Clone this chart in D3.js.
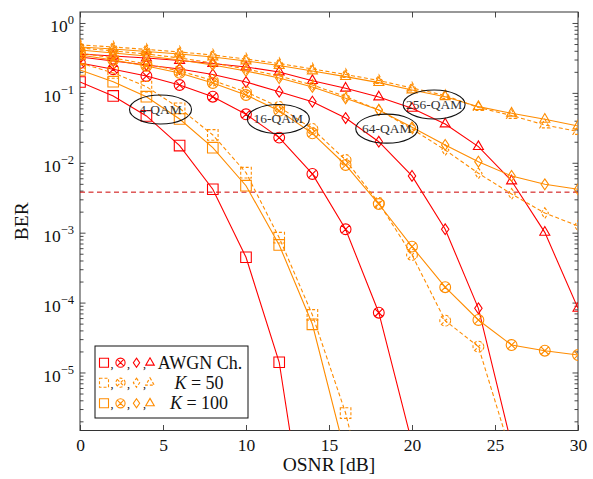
<!DOCTYPE html>
<html>
<head>
<meta charset="utf-8">
<script src="https://cdn.jsdelivr.net/npm/d3@7/dist/d3.min.js"></script>
<style>
html,body{margin:0;padding:0;background:#fff;}
svg{display:block;}
text{font-family:"Liberation Serif","Times New Roman",serif;}
</style>
</head>
<body>
<svg id="chart" width="593" height="479"></svg>
<script>
// ---------------- data ----------------
const osnr = [0,2,4,6,8,10,12,14,16,18,20,22,24,26,28,30];
const xTicks = [0,5,10,15,20,25,30];
const yTickExps = [0,-1,-2,-3,-4,-5];
const fecLimit = 3.8e-3;

// AWGN channel (red, solid)
const awgn4   = [0.143,0.0903,0.0468,0.0176,4.18e-3,4.45e-4,1.40e-5,1.2e-8];
const awgn16  = [0.268,0.218,0.1745,0.1297,0.0882,0.0494,0.0229,6.92e-3,1.12e-3,7.17e-5,9.8e-7];
const awgn64  = [0.326,0.286,0.251,0.220,0.1834,0.143,0.104,0.0748,0.0437,0.0200,6.48e-3,1.12e-3,8.28e-5,9.2e-7];
const awgn256 = [0.360,0.337,0.316,0.291,0.263,0.235,0.199,0.1495,0.1164,0.0874,0.0602,0.0359,0.0170,5.49e-3,1.01e-3,8.28e-5];

// K = 50 (orange, dashed)
const k50_4   = [0.268,0.193,0.1227,0.0602,0.0250,7.22e-3,8.48e-4,6.65e-5,2.63e-6,3e-8];
const k50_16  = [0.372,0.316,0.259,0.206,0.1504,0.103,0.0629,0.0305,0.01096,2.66e-3,4.80e-4,5.51e-5,2.34e-5,6.6e-7];
const k50_64  = [0.439,0.398,0.360,0.316,0.268,0.220,0.1745,0.1297,0.0888,0.0569,0.0305,0.0152,7.08e-3,3.58e-3,1.91e-3,1.25e-3];
const k50_256 = [0.485,0.454,0.418,0.385,0.348,0.305,0.263,0.220,0.1834,0.1504,0.1175,0.0918,0.0618,0.0475,0.0347,0.0280];

// K = 100 (orange, solid)
const k100_4   = [0.213,0.1446,0.0882,0.0423,0.01644,4.70e-3,6.67e-4,4.89e-5,6.6e-7];
const k100_16  = [0.348,0.296,0.243,0.193,0.1386,0.0933,0.0556,0.0264,9.30e-3,2.57e-3,6.31e-4,1.66e-4,5.64e-5,2.47e-5,2.05e-5,1.78e-5];
const k100_64  = [0.411,0.372,0.337,0.296,0.251,0.206,0.163,0.1214,0.0837,0.0569,0.0322,0.0180,0.01037,6.48e-3,4.92e-3,4.18e-3];
const k100_256 = [0.454,0.425,0.391,0.360,0.326,0.286,0.247,0.206,0.1706,0.140,0.110,0.0882,0.0635,0.0511,0.0419,0.0336];

const markers = ["square","circlex","diamond","triangle"];
const qamLabels = ["4-QAM","16-QAM","64-QAM","256-QAM"];
const labelOsnr = [4.85,11.95,18.48,21.33];
const labelBer  = [0.0579,0.0423,0.0308,0.0682];
const legendTexts = ["AWGN Ch.","K = 50","K = 100"];

// ---------------- styles ----------------
const RED = "#ff0000", ORANGE = "#ff8c00";
const groups = [
  {name:"AWGN Ch.", color:RED, dash:null, series:[awgn4,awgn16,awgn64,awgn256]},
  {name:"K50", color:ORANGE, dash:"4,2.5", series:[k50_4,k50_16,k50_64,k50_256]},
  {name:"K100", color:ORANGE, dash:null, series:[k100_4,k100_16,k100_64,k100_256]}
];

const svg = d3.select("#chart");
const L = 80, R = 578, T = 12, B = 430.5;
const x = d3.scaleLinear().domain([0,30]).range([L,R]);
const y = d3.scaleLog().domain([Math.pow(10,-5.83), Math.pow(10,0.157)]).range([B,T]);

function markerPath(type, s) {
  s = s || 1;
  if (type === "square") { const a = 5.3*s; return `M${-a},${-a}H${a}V${a}H${-a}Z`; }
  if (type === "circlex") { const r = 5.4*s, a = r*0.7071;
    return `M${r},0A${r},${r} 0 1,1 ${-r},0A${r},${r} 0 1,1 ${r},0Z M${-a},${-a}L${a},${a}M${-a},${a}L${a},${-a}`; }
  if (type === "diamond") { const w = 3.7*s, h = 5.4*s; return `M0,${-h}L${w},0L0,${h}L${-w},0Z`; }
  if (type === "triangle") { const r = 5.8*s; return `M0,${-r}L${r*0.866},${r/2}L${-r*0.866},${r/2}Z`; }
}

svg.append("defs").append("clipPath").attr("id","plotclip")
  .append("rect").attr("x",L).attr("y",T).attr("width",R-L).attr("height",B-T);

// ---------------- axes ----------------
const minorVals = [];
for (let e = -6; e <= 0; e++) for (let m = 2; m <= 9; m++) {
  const v = m*Math.pow(10,e);
  if (v >= y.domain()[0] && v <= y.domain()[1]) minorVals.push(v);
}
const majorVals = yTickExps.map(e => Math.pow(10,e));

const axisColor = "#333";
function styleAxis(g){ g.select(".domain").remove(); g.selectAll("line").attr("stroke",axisColor).attr("stroke-width",0.9); }

// x axis bottom & top
svg.append("g").attr("transform",`translate(0,${B})`)
  .call(d3.axisBottom(x).tickValues(xTicks).tickSize(-5.5).tickPadding(8).tickFormat(d3.format("d")))
  .call(styleAxis)
  .call(g => g.selectAll("text").attr("font-size",17.5).attr("fill","#111").attr("font-family","Liberation Serif"));
svg.append("g").attr("transform",`translate(0,${T})`)
  .call(d3.axisTop(x).tickValues(xTicks).tickSize(-5.5).tickFormat(""))
  .call(styleAxis);

// y axis left & right
svg.append("g").attr("transform",`translate(${L},0)`)
  .call(d3.axisLeft(y).tickValues(minorVals).tickSize(-3.5).tickFormat(""))
  .call(styleAxis);
svg.append("g").attr("transform",`translate(${R},0)`)
  .call(d3.axisRight(y).tickValues(minorVals).tickSize(-3.5).tickFormat(""))
  .call(styleAxis);
svg.append("g").attr("transform",`translate(${R},0)`)
  .call(d3.axisRight(y).tickValues(majorVals).tickSize(-5.5).tickFormat(""))
  .call(styleAxis);
const yAxisL = svg.append("g").attr("transform",`translate(${L},0)`)
  .call(d3.axisLeft(y).tickValues(majorVals).tickSize(-5.5).tickPadding(6).tickFormat(""))
  .call(styleAxis);
yAxisL.selectAll(".tick").each(function(d){
  const t = d3.select(this).select("text");
  t.attr("font-size",17.5).attr("fill","#111").attr("font-family","Liberation Serif").attr("dy","0.5em");
  t.append("tspan").text("10");
  const e = Math.round(Math.log10(d));
  t.append("tspan").attr("dy","-0.62em").attr("font-size",12.5).text(e === 0 ? "0" : "\u2212" + Math.abs(e));
});

// frame
svg.append("rect").attr("x",L).attr("y",T).attr("width",R-L).attr("height",B-T)
  .attr("fill","none").attr("stroke",axisColor).attr("stroke-width",1);

// axis labels
svg.append("text").attr("x",(L+R)/2).attr("y",471).attr("text-anchor","middle")
  .attr("font-size",19.5).attr("fill","#111").text("OSNR [dB]");
svg.append("text").attr("transform",`translate(28,${(T+B)/2}) rotate(-90)`).attr("text-anchor","middle")
  .attr("font-size",19.5).attr("fill","#111").text("BER");

// ---------------- plot ----------------
const plot = svg.append("g").attr("clip-path","url(#plotclip)");

// FEC limit line
plot.append("line").attr("x1",L).attr("x2",R).attr("y1",y(fecLimit)).attr("y2",y(fecLimit))
  .attr("stroke","#cc0000").attr("stroke-width",1).attr("stroke-dasharray","5,3.5");

const line = d3.line().x(d => x(d[0])).y(d => y(d[1]));
groups.forEach(g => {
  g.series.forEach((vals, i) => {
    const pts = vals.map((v, j) => [osnr[j], v]);
    plot.append("path").datum(pts).attr("d", line)
      .attr("fill","none").attr("stroke",g.color).attr("stroke-width",1.1)
      .attr("stroke-dasharray", g.dash);
    plot.selectAll(null).data(pts).enter().append("path")
      .attr("transform", d => `translate(${x(d[0])},${y(d[1])})`)
      .attr("d", markerPath(markers[i]))
      .attr("fill","none").attr("stroke",g.color).attr("stroke-width",1.1)
      .attr("stroke-dasharray", g.dash ? "3,2" : null);
  });
});

// ellipse labels
qamLabels.forEach((lab, i) => {
  const cx = x(labelOsnr[i]), cy = y(labelBer[i]);
  svg.append("ellipse").attr("cx",cx).attr("cy",cy).attr("rx",31).attr("ry",14.5)
    .attr("fill","none").attr("stroke","#111").attr("stroke-width",1.1);
  svg.append("text").attr("x",cx).attr("y",cy+4.5).attr("text-anchor","middle")
    .attr("font-size",13.5).attr("fill","#333").text(lab);
});

// ---------------- legend ----------------
const lg = svg.append("g");
lg.append("rect").attr("x",95).attr("y",346).attr("width",153).attr("height",72)
  .attr("fill","#fff").attr("stroke","#111").attr("stroke-width",1);
const rowY = [362.7, 382.7, 403.3];
const mkX = [104, 120.5, 136.5, 150];
groups.forEach((g, r) => {
  markers.forEach((m, k) => {
    lg.append("path").attr("transform",`translate(${mkX[k]},${rowY[r]})`)
      .attr("d", markerPath(m, 0.85))
      .attr("fill","none").attr("stroke",g.color).attr("stroke-width",1.1)
      .attr("stroke-dasharray", g.dash ? "3,2" : null);
    if (k < 3) lg.append("text").attr("x",mkX[k]+6.5).attr("y",rowY[r]+5)
      .attr("font-size",12).attr("fill","#111").text(",");
  });
});
// texts
lg.append("text").attr("x",200).attr("y",rowY[0]+6).attr("text-anchor","middle")
  .attr("font-size",18).attr("fill","#111").text(legendTexts[0]);
[1,2].forEach(r => {
  const parts = legendTexts[r].split(" = ");
  const t = lg.append("text").attr("x",199).attr("y",rowY[r]+6).attr("text-anchor","middle")
    .attr("font-size",18).attr("fill","#111");
  t.append("tspan").attr("font-style","italic").text(parts[0]);
  t.append("tspan").text(" = " + parts[1]);
});
</script>
</body>
</html>
